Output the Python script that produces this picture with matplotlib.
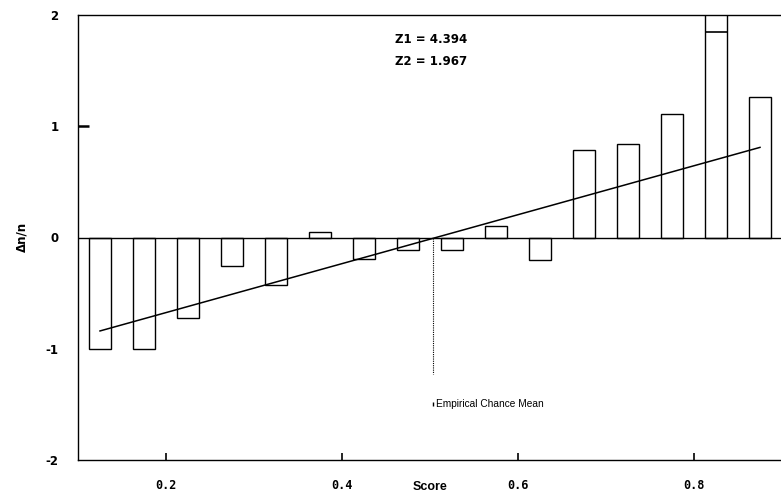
import matplotlib
matplotlib.use("Agg")
import matplotlib.pyplot as plt

# ---- data ----
score_bins = [0.125, 0.175, 0.225, 0.275, 0.325, 0.375, 0.425, 0.475,
              0.525, 0.575, 0.625, 0.675, 0.725, 0.775, 0.825, 0.875]
delta_n = [-1.0, -1.0, -0.72, -0.26, -0.43, 0.05, -0.19, -0.11,
           -0.11, 0.10, -0.20, 0.79, 0.84, 1.11, 2.10, 1.26]
inner_mark_x = [0.825]
inner_mark_y = [1.85]
fit_x = [0.125, 0.875]
fit_y = [-0.84, 0.81]
chance_mean = 0.503
chance_line_y = [0.0, -1.23]
x_ticks = [0.2, 0.4, 0.6, 0.8]
x_tick_labels = ["0.2", "0.4", "0.6", "0.8"]
y_ticks = [-2, -1, 0, 1, 2]
y_tick_labels = ["-2", "-1", "0", "1", "2"]
z_texts = ["Z1 = 4.394", "Z2 = 1.967"]

W, H = 781, 496
fig = plt.figure(figsize=(W / 100, H / 100), dpi=100)
ax = fig.add_axes([78 / W, 36 / H, (W - 78) / W, 445 / H])
ax.set_xlim(0.1, 0.1 + (W - 78) / 880)
ax.set_ylim(-2, 2)

bar_w = 0.026
ax.bar(score_bins, delta_n, width=bar_w, facecolor="white",
       edgecolor="black", linewidth=1.0, zorder=2)
ax.hlines(inner_mark_y, [x - bar_w / 2 for x in inner_mark_x],
          [x + bar_w / 2 for x in inner_mark_x], color="black", lw=1.2, zorder=3)
ax.axhline(0, color="black", lw=1.0, zorder=3)
ax.plot(fit_x, fit_y, color="black", lw=1.1, zorder=4)
ax.plot([chance_mean, chance_mean], chance_line_y, color="black",
        lw=0.8, linestyle=(0, (1, 1)), zorder=3)

# legend-like label
ax.plot([chance_mean], [-1.5], marker="|", markersize=3, color="black",
        linestyle="none", zorder=4)
ax.text(chance_mean + 0.004, -1.5, "Empirical Chance Mean",
        fontsize=7.3, family="Liberation Sans", va="center", ha="left")

ax.text(0.46, 1.784, z_texts[0], fontsize=8.5, fontweight="bold",
        family="DejaVu Sans", va="center")
ax.text(0.46, 1.578, z_texts[1], fontsize=8.5, fontweight="bold",
        family="DejaVu Sans", va="center")

ax.spines["right"].set_visible(False)
for s in ["left", "top", "bottom"]:
    ax.spines[s].set_linewidth(1.0)

ax.set_xticks(x_ticks)
ax.set_xticklabels(x_tick_labels, fontsize=8.5, fontweight="bold",
                   family="DejaVu Sans Mono")
ax.set_yticks(y_ticks)
ax.set_yticklabels(y_tick_labels, fontsize=8.5, fontweight="bold",
                   family="DejaVu Sans")
ax.tick_params(axis="x", direction="in", length=5, width=1.2, pad=14)
ax.tick_params(axis="y", direction="in", length=8, width=1.8, pad=14)
for loc, t in zip(y_ticks, ax.yaxis.get_major_ticks()):
    if loc != 1:
        t.tick1line.set_visible(False)

ax.text(0.5, -2.0 - 27 / 111.25, "Score", fontsize=9, fontweight="bold",
        family="Liberation Sans", ha="center", va="center")
fig.text(22 / W, 1 - 237 / H, "Δn/n", rotation=90, fontsize=8.5,
         fontweight="bold", family="DejaVu Sans", ha="center", va="center")

fig.savefig("out.png", dpi=100)
